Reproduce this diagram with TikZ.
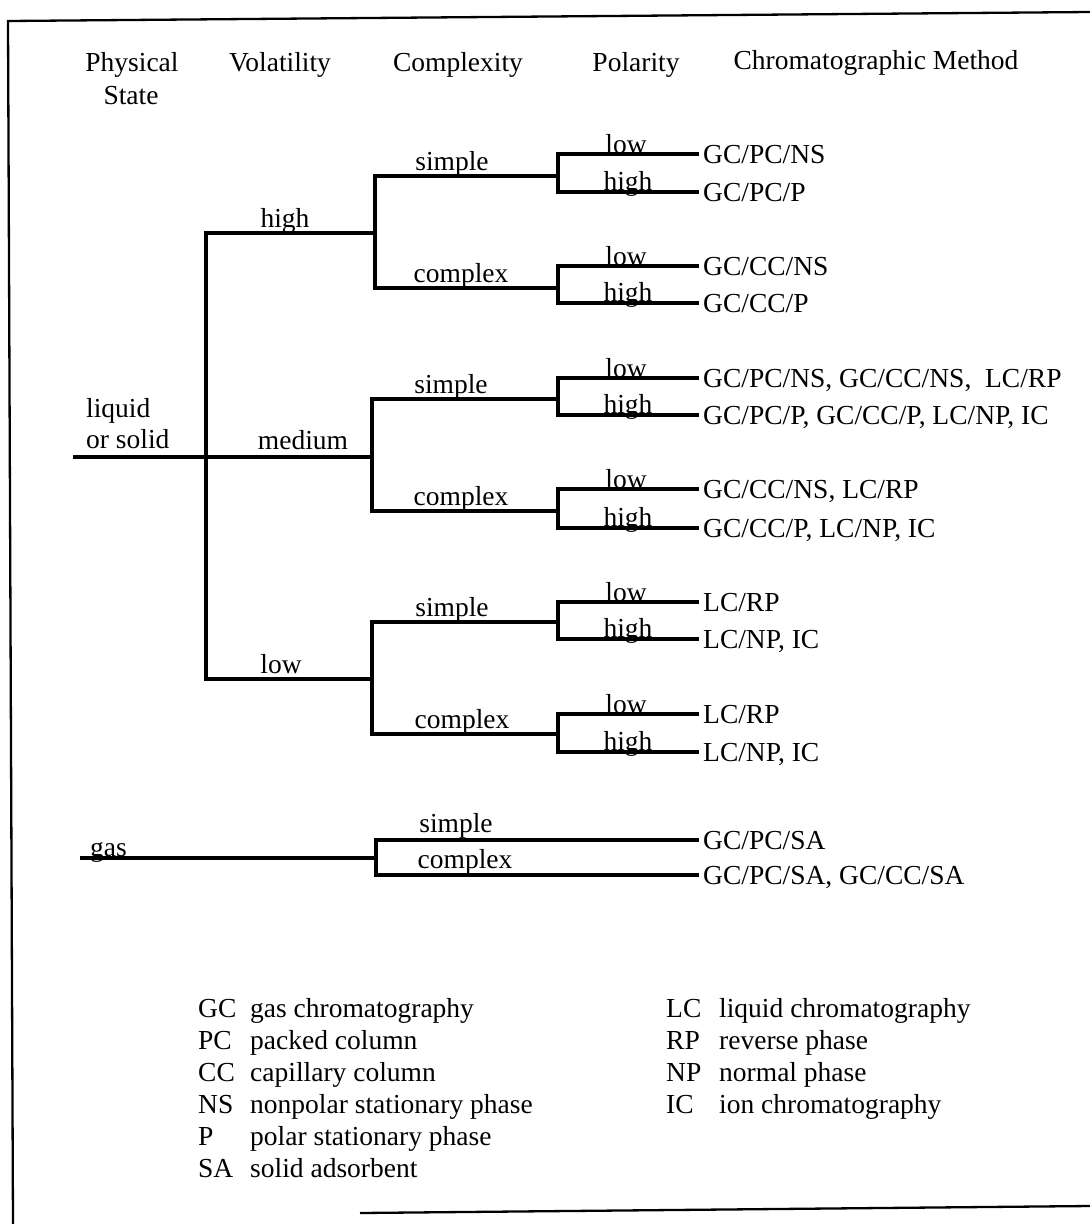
\documentclass[tikz,border=0pt]{standalone}
\usepackage{fontspec}
\setmainfont{Liberation Serif}
\newcommand\polfork[6]{%
  \coordinate (#1m) at (558,#2);
  \coordinate (#1a) at (558,#3);
  \coordinate (#1b) at (558,#4);
  \node[res] (#1lo) at (703,#3) {#5};
  \node[res] (#1hi) at (703,#4) {#6};
  \draw[branch] (#1a) -- (#1b);
  \draw[branch,shorten >=6pt] (#1a) -- (#1lo.west);
  \draw[branch,shorten >=6pt] (#1b) -- (#1hi.west);
  \node[lbl] (#1llo) at (626,#3-1) {low};
  \node[lbl] (#1lhi) at (628,#4-2) {high};
}
\begin{document}
\begin{tikzpicture}[x=1pt,y=-1pt,
  every node/.style={font=\fontsize{27.5}{32}\selectfont, inner sep=0pt},
  head/.style={anchor=base},
  lbl/.style={anchor=base},
  res/.style={anchor=west, text height=18pt, text depth=0pt},
  branch/.style={line width=3.3pt, line cap=rect},
  frame/.style={line width=2.3pt},
  abbr/.style={anchor=base west},
]
\useasboundingbox (0,0) rectangle (1090,1224);

% frame
\coordinate (ftl) at (8,21);
\coordinate (ftr) at (1090,12);
\coordinate (fbl) at (13,1224);
\coordinate (fbs) at (360,1213);
\coordinate (fbr) at (1090,1206);
\draw[frame] (ftr) -- (ftl) -- (fbl);
\draw[frame] (fbs) -- (fbr);

% headers
\node[head] (hps1) at (132,71) {Physical};
\node[head] (hps2) at (131,104) {State};
\node[head] (hvol) at (280,71) {Volatility};
\node[head] (hcpx) at (458,71) {Complexity};
\node[head] (hpol) at (636,71) {Polarity};
\node[head] (hmet) at (876,69) {Chromatographic Method};

% root: liquid or solid
\node[abbr] (liq1) at (86,417) {liquid};
\node[abbr] (liq2) at (86,448) {or solid};
\coordinate (ls) at (75,457);
\coordinate (v1) at (206,457);
\coordinate (vH) at (206,233);
\coordinate (vL) at (206,679);
\coordinate (cH) at (375,233);
\coordinate (cM) at (372,457);
\coordinate (cL) at (372,679);
\draw[branch] (ls) -- (v1);
\draw[branch] (vH) -- (vL);
\draw[branch] (vH) -- (cH);
\draw[branch] (v1) -- (cM);
\draw[branch] (vL) -- (cL);
\node[lbl] (lvh) at (285,227) {high};
\node[lbl] (lvm) at (303,449) {medium};
\node[lbl] (lvl) at (281,673) {low};

% polarity forks and methods
\polfork{hs}{176}{154}{192}{GC/PC/NS}{GC/PC/P}
\polfork{hc}{288}{266}{303}{GC/CC/NS}{GC/CC/P}
\polfork{ms}{399}{378}{415}{GC/PC/NS, GC/CC/NS,\ \ LC/RP}{GC/PC/P, GC/CC/P, LC/NP, IC}
\polfork{mc}{511}{489}{528}{GC/CC/NS, LC/RP}{GC/CC/P, LC/NP, IC}
\polfork{ls}{622}{602}{639}{LC/RP}{LC/NP, IC}
\polfork{lc}{734}{714}{752}{LC/RP}{LC/NP, IC}

% complexity forks
\coordinate (hsx) at (375,176);
\coordinate (hcx) at (375,288);
\draw[branch] (hsx) -- (hcx);
\draw[branch] (hsx) -- (hsm);
\draw[branch] (hcx) -- (hcm);
\node[lbl] (lhs) at (452,170) {simple};
\node[lbl] (lhc) at (461,282) {complex};

\coordinate (msx) at (372,399);
\coordinate (mcx) at (372,511);
\draw[branch] (msx) -- (mcx);
\draw[branch] (msx) -- (msm);
\draw[branch] (mcx) -- (mcm);
\node[lbl] (lms) at (451,393) {simple};
\node[lbl] (lmc) at (461,505) {complex};

\coordinate (lsx) at (372,622);
\coordinate (lcx) at (372,734);
\draw[branch] (lsx) -- (lcx);
\draw[branch] (lsx) -- (lsm);
\draw[branch] (lcx) -- (lcm);
\node[lbl] (lls) at (452,616) {simple};
\node[lbl] (llc) at (462,728) {complex};

% gas
\node[abbr] (gas) at (90,856) {gas};
\coordinate (gs) at (82,858);
\coordinate (gv) at (376,858);
\coordinate (gt) at (376,840);
\coordinate (gb) at (376,875);
\node[res] (gr1) at (703,840) {GC/PC/SA};
\node[res] (gr2) at (703,875) {GC/PC/SA, GC/CC/SA};
\draw[branch] (gs) -- (gv);
\draw[branch] (gt) -- (gb);
\draw[branch,shorten >=6pt] (gt) -- (gr1.west);
\draw[branch,shorten >=6pt] (gb) -- (gr2.west);
\node[lbl] (lgs) at (456,832) {simple};
\node[lbl] (lgc) at (465,868) {complex};

% legend
\node[abbr] (a1) at (198,1017) {GC};  \node[abbr] (d1) at (250,1017) {gas chromatography};
\node[abbr] (a2) at (198,1049) {PC};  \node[abbr] (d2) at (250,1049) {packed column};
\node[abbr] (a3) at (198,1081) {CC};  \node[abbr] (d3) at (250,1081) {capillary column};
\node[abbr] (a4) at (198,1113) {NS};  \node[abbr] (d4) at (250,1113) {nonpolar stationary phase};
\node[abbr] (a5) at (198,1145) {P};   \node[abbr] (d5) at (250,1145) {polar stationary phase};
\node[abbr] (a6) at (198,1177) {SA};  \node[abbr] (d6) at (250,1177) {solid adsorbent};
\node[abbr] (b1) at (666,1017) {LC};  \node[abbr] (e1) at (719,1017) {liquid chromatography};
\node[abbr] (b2) at (666,1049) {RP};  \node[abbr] (e2) at (719,1049) {reverse phase};
\node[abbr] (b3) at (666,1081) {NP};  \node[abbr] (e3) at (719,1081) {normal phase};
\node[abbr] (b4) at (666,1113) {IC};  \node[abbr] (e4) at (719,1113) {ion chromatography};
\end{tikzpicture}
\end{document}
